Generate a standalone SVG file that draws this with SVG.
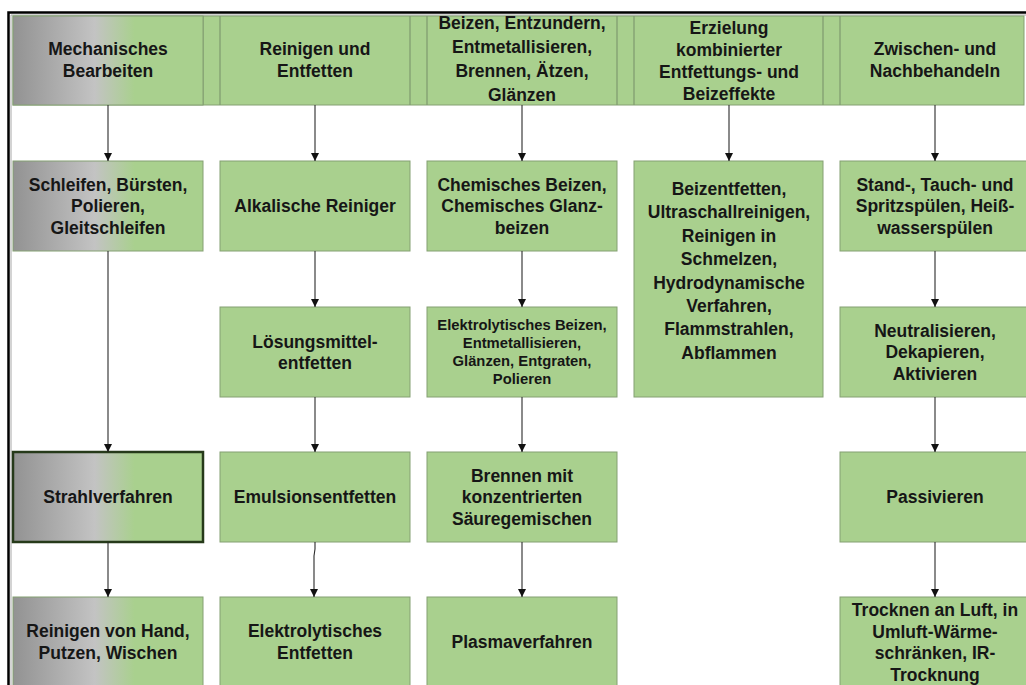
<svg xmlns="http://www.w3.org/2000/svg" width="1026" height="685" viewBox="0 0 1026 685">
  <defs>
    <linearGradient id="mechFill" x1="0" y1="0" x2="1" y2="0">
      <stop offset="0" stop-color="#929292"/>
      <stop offset="0.43" stop-color="#c3c3c3"/>
      <stop offset="0.64" stop-color="#a9d08e"/>
      <stop offset="1" stop-color="#a9d08e"/>
    </linearGradient>
    <marker id="arrow" viewBox="0 0 8 8" refX="8" refY="4" markerWidth="8" markerHeight="8" markerUnits="userSpaceOnUse" orient="auto">
      <path d="M0,0 L8,4 L0,8 z" fill="#111"/>
    </marker>
    <style>
      .box { fill: #a9d08e; stroke: #84a072; stroke-width: 1; }
      .mech { fill: url(#mechFill); }
      .strong { stroke: #263a1a; stroke-width: 2.5; }
      .lane { stroke: #7f9a6e; stroke-width: 1.2; fill: none; }
      text { font-family: "Liberation Sans", Arial, sans-serif; font-size: 17.5px; font-weight: bold; fill: #161616; text-anchor: middle; }
      .small { font-size: 14.8px; }
      .conn { stroke: #2a2a2a; stroke-width: 1.1; fill: none; marker-end: url(#arrow); }
    </style>
  </defs>

  <rect width="1026" height="685" fill="#ffffff"/>

  <!-- outer frame: heavy black rule with a thin grey line inside -->
  <path d="M1026,12.5 H8.5 V685" fill="none" stroke="#000" stroke-width="2.5"/>
  <path d="M1026,15 H11 V685" fill="none" stroke="#a8a8a8" stroke-width="1"/>

  <!-- header band with lane separators -->
  <g id="header-band">
    <rect x="13" y="16" width="1011" height="89" class="box"/>
    <path class="lane" d="M203,16 V105 M220,16 V105 M410,16 V105 M427,16 V105 M617,16 V105 M634,16 V105 M823,16 V105 M840,16 V105"/>
  </g>

  <g id="h-mechanisch">
    <rect x="13" y="16" width="190" height="89" class="box mech"/>
    <text x="108"><tspan x="108" y="55">Mechanisches</tspan><tspan x="108" y="77">Bearbeiten</tspan></text>
  </g>
  <g id="h-reinigen">
    <text x="315"><tspan x="315" y="55">Reinigen und</tspan><tspan x="315" y="77">Entfetten</tspan></text>
  </g>
  <g id="h-beizen">
    <text x="522"><tspan x="522" y="28.5">Beizen, Entzundern,</tspan><tspan x="522" y="52.5">Entmetallisieren,</tspan><tspan x="522" y="76.5">Brennen, Ätzen,</tspan><tspan x="522" y="100.5">Glänzen</tspan></text>
  </g>
  <g id="h-kombiniert">
    <text x="729"><tspan x="729" y="34">Erzielung</tspan><tspan x="729" y="56">kombinierter</tspan><tspan x="729" y="78">Entfettungs- und</tspan><tspan x="729" y="100">Beizeffekte</tspan></text>
  </g>
  <g id="h-nachbehandeln">
    <text x="935"><tspan x="935" y="55">Zwischen- und</tspan><tspan x="935" y="77">Nachbehandeln</tspan></text>
  </g>

  <!-- column 1 -->
  <g id="schleifen">
    <rect x="13" y="161" width="190" height="90" class="box mech"/>
    <text><tspan x="108" y="190.5">Schleifen, Bürsten,</tspan><tspan x="108" y="212">Polieren,</tspan><tspan x="108" y="233.5">Gleitschleifen</tspan></text>
  </g>
  <g id="strahlverfahren">
    <rect x="13" y="452" width="190" height="90" class="box mech strong"/>
    <text x="108" y="503">Strahlverfahren</text>
  </g>
  <g id="reinigen-hand">
    <rect x="13" y="597" width="190" height="100" class="box mech"/>
    <text><tspan x="108" y="637">Reinigen von Hand,</tspan><tspan x="108" y="658.5">Putzen, Wischen</tspan></text>
  </g>

  <!-- column 2 -->
  <g id="alkalisch">
    <rect x="220" y="161" width="190" height="90" class="box"/>
    <text x="315" y="212">Alkalische Reiniger</text>
  </g>
  <g id="loesungsmittel">
    <rect x="220" y="307" width="190" height="90" class="box"/>
    <text><tspan x="315" y="347.5">Lösungsmittel-</tspan><tspan x="315" y="369">entfetten</tspan></text>
  </g>
  <g id="emulsion">
    <rect x="220" y="452" width="190" height="90" class="box"/>
    <text x="315" y="503">Emulsionsentfetten</text>
  </g>
  <g id="elektrolytisch-entfetten">
    <rect x="220" y="597" width="190" height="100" class="box"/>
    <text><tspan x="315" y="637">Elektrolytisches</tspan><tspan x="315" y="658.5">Entfetten</tspan></text>
  </g>

  <!-- column 3 -->
  <g id="chemisch-beizen">
    <rect x="427" y="161" width="190" height="90" class="box"/>
    <text><tspan x="522" y="190.5">Chemisches Beizen,</tspan><tspan x="522" y="212">Chemisches Glanz-</tspan><tspan x="522" y="233.5">beizen</tspan></text>
  </g>
  <g id="elektrolytisch-beizen">
    <rect x="427" y="307" width="190" height="90" class="box"/>
    <text class="small"><tspan x="522" y="330">Elektrolytisches Beizen,</tspan><tspan x="522" y="348">Entmetallisieren,</tspan><tspan x="522" y="366">Glänzen, Entgraten,</tspan><tspan x="522" y="384">Polieren</tspan></text>
  </g>
  <g id="brennen">
    <rect x="427" y="452" width="190" height="90" class="box"/>
    <text><tspan x="522" y="481.5">Brennen mit</tspan><tspan x="522" y="503">konzentrierten</tspan><tspan x="522" y="524.5">Säuregemischen</tspan></text>
  </g>
  <g id="plasma">
    <rect x="427" y="597" width="190" height="100" class="box"/>
    <text x="522" y="648">Plasmaverfahren</text>
  </g>

  <!-- column 4 -->
  <g id="beizentfetten">
    <rect x="634" y="161" width="189" height="236" class="box"/>
    <text><tspan x="729" y="195">Beizentfetten,</tspan><tspan x="729" y="218.4">Ultraschallreinigen,</tspan><tspan x="729" y="241.8">Reinigen in</tspan><tspan x="729" y="265.2">Schmelzen,</tspan><tspan x="729" y="288.6">Hydrodynamische</tspan><tspan x="729" y="312">Verfahren,</tspan><tspan x="729" y="335.4">Flammstrahlen,</tspan><tspan x="729" y="358.8">Abflammen</tspan></text>
  </g>

  <!-- column 5 -->
  <g id="spuelen">
    <rect x="840" y="161" width="190" height="90" class="box"/>
    <text><tspan x="935" y="190.5">Stand-, Tauch- und</tspan><tspan x="935" y="212">Spritzspülen, Heiß-</tspan><tspan x="935" y="233.5">wasserspülen</tspan></text>
  </g>
  <g id="neutralisieren">
    <rect x="840" y="307" width="190" height="90" class="box"/>
    <text><tspan x="935" y="336.5">Neutralisieren,</tspan><tspan x="935" y="358">Dekapieren,</tspan><tspan x="935" y="379.5">Aktivieren</tspan></text>
  </g>
  <g id="passivieren">
    <rect x="840" y="452" width="190" height="90" class="box"/>
    <text x="935" y="503">Passivieren</text>
  </g>
  <g id="trocknen">
    <rect x="840" y="597" width="190" height="100" class="box"/>
    <text><tspan x="935" y="616">Trocknen an Luft, in</tspan><tspan x="935" y="637.5">Umluft-Wärme-</tspan><tspan x="935" y="659">schränken, IR-</tspan><tspan x="935" y="680.5">Trocknung</tspan></text>
  </g>

  <!-- connectors -->
  <g id="connectors">
    <path class="conn" d="M108,105 V161"/>
    <path class="conn" d="M108,251 V452"/>
    <path class="conn" d="M108,542 V597"/>

    <path class="conn" d="M315,105 V161"/>
    <path class="conn" d="M315,251 V307"/>
    <path class="conn" d="M315,397 V452"/>
    <path class="conn" d="M315,542 V549 L314,556 V597"/>

    <path class="conn" d="M522,105 V161"/>
    <path class="conn" d="M522,251 V307"/>
    <path class="conn" d="M522,397 V452"/>
    <path class="conn" d="M522,542 V597"/>

    <path class="conn" d="M729,105 V161"/>

    <path class="conn" d="M935,105 V161"/>
    <path class="conn" d="M935,251 V307"/>
    <path class="conn" d="M935,397 V452"/>
    <path class="conn" d="M935,542 V597"/>
  </g>
</svg>
